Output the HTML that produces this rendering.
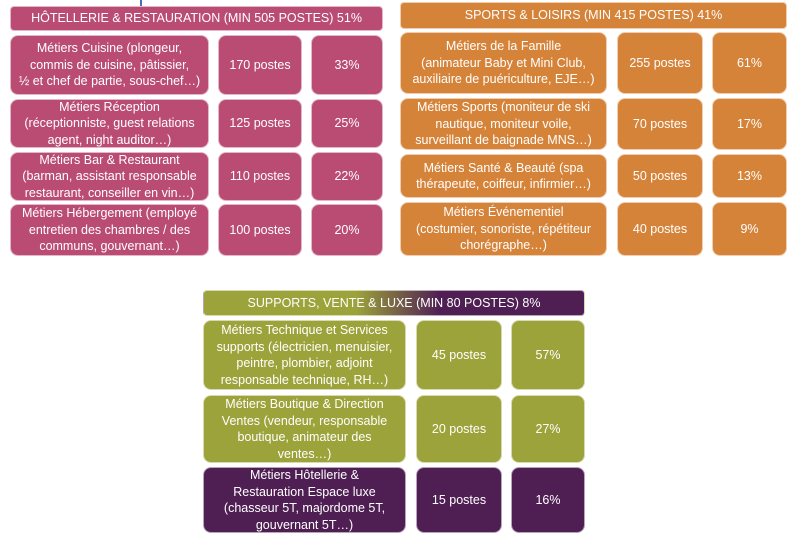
<!DOCTYPE html>
<html><head><meta charset="utf-8">
<style>
body{margin:0;width:800px;height:542px;background:#fff;position:relative;overflow:hidden;font-family:"Liberation Sans",sans-serif;}
.b{position:absolute;box-sizing:border-box;display:flex;align-items:center;justify-content:center;text-align:center;color:#fff;font-size:12.5px;line-height:16.5px;border-radius:8px;border:1px solid rgba(255,255,255,0.6);}
.h{border-radius:4px;font-size:12.5px;}
.pink{background:#BA4C74;}
.orange{background:#D6833A;}
.olive{background:#9CA33A;}
.purple{background:#4F1F54;}
.grad{background:linear-gradient(90deg,#9CA33A 0%,#9CA33A 40%,#4F1F54 62%,#4F1F54 100%);}
</style></head><body>
<div style="position:absolute;left:140px;top:0;width:2px;height:6px;background:#4a6fb0"></div>
<script>
const groupTitles=["HÔTELLERIE & RESTAURATION (MIN 505 POSTES) 51%","SPORTS & LOISIRS (MIN 415 POSTES) 41%","SUPPORTS, VENTE & LUXE (MIN 80 POSTES) 8%"];
const descs0=["Métiers Cuisine (plongeur,<br>commis de cuisine, pâtissier,<br>½ et chef de partie, sous-chef…)","Métiers Réception<br>(réceptionniste, guest relations<br>agent, night auditor…)","Métiers Bar &amp; Restaurant<br>(barman, assistant responsable<br>restaurant, conseiller en vin…)","Métiers Hébergement (employé<br>entretien des chambres / des<br>communs, gouvernant…)"];
const posts0=[170,125,110,100];
const pcts0=[33,25,22,20];
const descs1=["Métiers de la Famille<br>(animateur Baby et Mini Club,<br>auxiliaire de puériculture, EJE…)","Métiers Sports (moniteur de ski<br>nautique, moniteur voile,<br>surveillant de baignade MNS…)","Métiers Santé &amp; Beauté (spa<br>thérapeute, coiffeur, infirmier…)","Métiers Événementiel<br>(costumier, sonoriste, répétiteur<br>chorégraphe…)"];
const posts1=[255,70,50,40];
const pcts1=[61,17,13,9];
const descs2=["Métiers Technique et Services<br>supports (électricien, menuisier,<br>peintre, plombier, adjoint<br>responsable technique, RH…)","Métiers Boutique &amp; Direction<br>Ventes (vendeur, responsable<br>boutique, animateur des<br>ventes…)","Métiers Hôtellerie &amp;<br>Restauration Espace luxe<br>(chasseur 5T, majordome 5T,<br>gouvernant 5T…)"];
const posts2=[45,20,15];
const pcts2=[57,27,16];

function box(x,y,w,h,cls,html){
  const d=document.createElement('div');
  d.className='b '+cls;
  d.style.left=x+'px';d.style.top=y+'px';d.style.width=w+'px';d.style.height=h+'px';
  d.innerHTML=html;
  document.body.appendChild(d);
  return d;
}
const layouts=[
 {hx:10,hy:6,hw:373,hh:25,cols:[[10,199],[218,84],[311,72]],rows:[[35,60],[99,49],[152,49],[204,52]],cls:['pink','pink','pink','pink'],hcls:'pink'},
 {hx:400,hy:2,hw:387,hh:27,cols:[[400,207],[617,86],[712,75]],rows:[[32,62],[98,52],[154,44],[202,54]],cls:['orange','orange','orange','orange'],hcls:'orange'},
 {hx:203,hy:290,hw:382,hh:26,cols:[[203,203],[416,86],[511,74]],rows:[[320,70],[395,68],[467,66]],cls:['olive','olive','purple'],hcls:'grad'}
];
const allDescs=[descs0,descs1,descs2],allPosts=[posts0,posts1,posts2],allPcts=[pcts0,pcts1,pcts2];
const names=['hotellerie','sports','supports'];
layouts.forEach((L,g)=>{
  const hd=box(L.hx,L.hy,L.hw,L.hh,'h '+L.hcls,groupTitles[g]);
  
  
  L.rows.forEach((r,i)=>{
    const a=box(L.cols[0][0],r[0],L.cols[0][1],r[1],L.cls[i],allDescs[g][i]);
    
    
    const b=box(L.cols[1][0],r[0],L.cols[1][1],r[1],L.cls[i],allPosts[g][i]+' postes');
    
    
    const c=box(L.cols[2][0],r[0],L.cols[2][1],r[1],L.cls[i],allPcts[g][i]+'%');
    
    
  });
});
</script>
</body></html>
